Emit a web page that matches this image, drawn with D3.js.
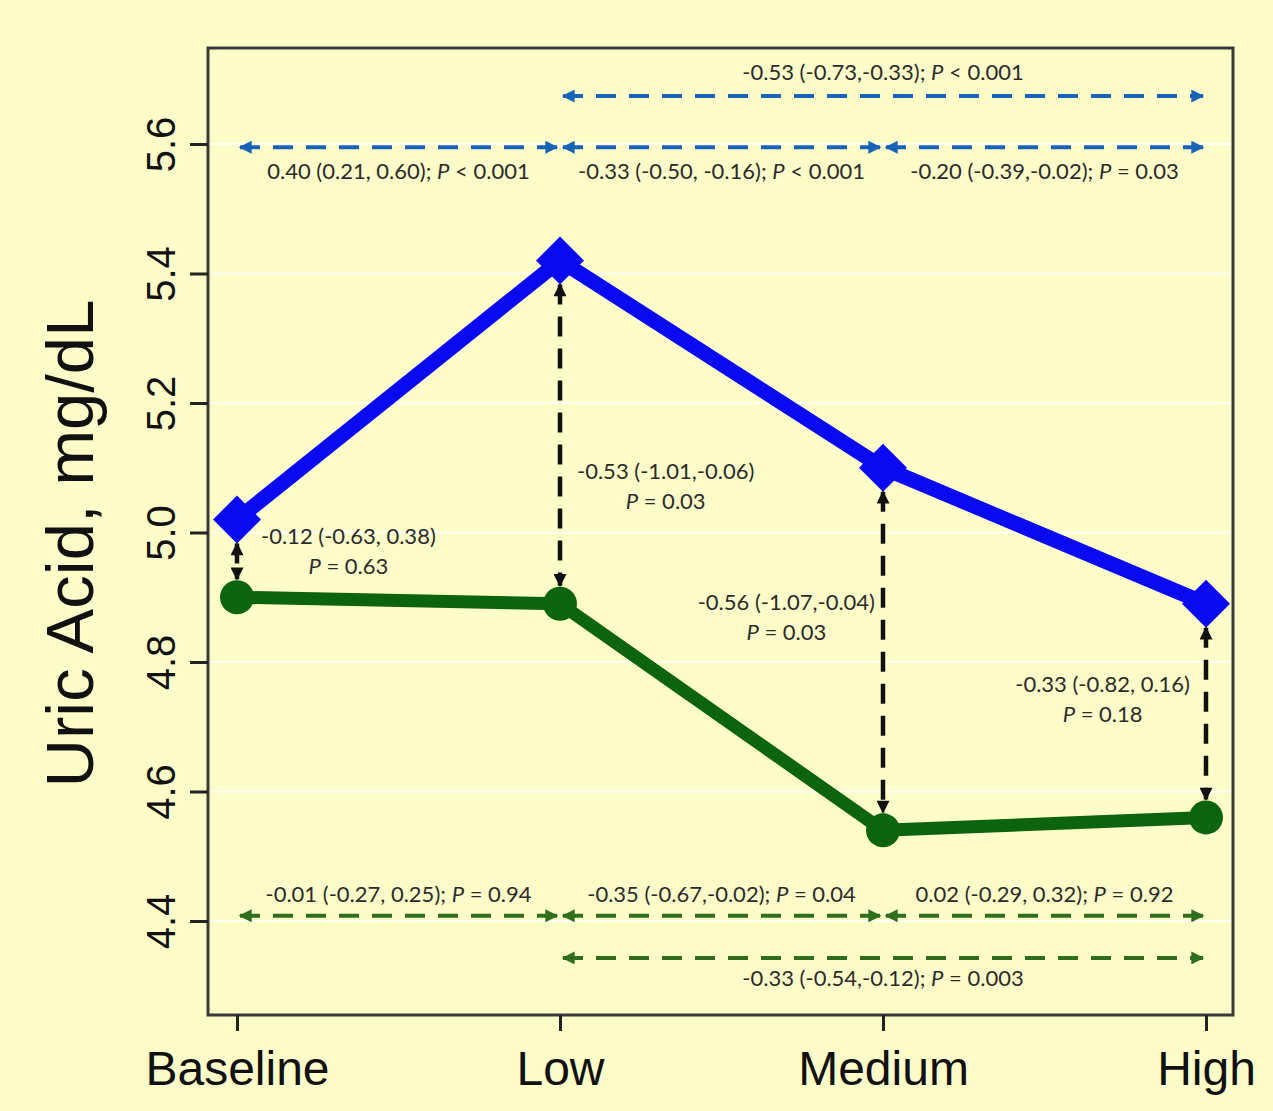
<!DOCTYPE html>
<html>
<head>
<meta charset="utf-8">
<script src="https://cdnjs.cloudflare.com/ajax/libs/d3/7.8.5/d3.min.js"></script>
<style>
  html, body { margin: 0; padding: 0; background: #fefcc8; }
  svg { display: block; }
  .note { font-family: Lato, "Liberation Sans", Arial, sans-serif; font-size: 22px; fill: #2b2b2b; }
</style>
</head>
<body>
<div id="chart"></div>
<script>
// x categories
const categories = ['Baseline', 'Low', 'Medium', 'High'];

// mean uric acid per group
const blueValues = [5.02, 5.42, 5.10, 4.89];
const greenValues = [4.90, 4.89, 4.54, 4.56];

const yTicks = [4.4, 4.6, 4.8, 5.0, 5.2, 5.4, 5.6];

// between-period comparisons, blue series (index from, index to, label)
const blueFrom = [0, 1, 2, 1];
const blueTo = [1, 2, 3, 3];
const blueLabels = [
  '0.40 (0.21, 0.60); P<0.001',
  '-0.33 (-0.50, -0.16); P<0.001',
  '-0.20 (-0.39,-0.02); P=0.03',
  '-0.53 (-0.73,-0.33); P<0.001'
];

// between-period comparisons, green series
const greenFrom = [0, 1, 2, 1];
const greenTo = [1, 2, 3, 3];
const greenLabels = [
  '-0.01 (-0.27, 0.25); P=0.94',
  '-0.35 (-0.67,-0.02); P=0.04',
  '0.02 (-0.29, 0.32); P=0.92',
  '-0.33 (-0.54,-0.12); P=0.003'
];

// blue vs green difference at each period
const diffLabels = [
  '-0.12 (-0.63, 0.38)',
  '-0.53 (-1.01,-0.06)',
  '-0.56 (-1.07,-0.04)',
  '-0.33 (-0.82, 0.16)'
];
const diffP = ['P=0.63', 'P=0.03', 'P=0.03', 'P=0.18'];

const width = 1273;
const height = 1111;
const box = { left: 208, right: 1233, top: 48, bottom: 1015 };

const blueColor = '#0a0af2';
const greenColor = '#0d640f';
const blueArrow = '#1763b8';
const greenArrow = '#2e6e1c';

const svg = d3.select('#chart')
  .append('svg')
  .attr('width', width)
  .attr('height', height);

svg.append('rect')
  .attr('width', width)
  .attr('height', height)
  .attr('fill', '#fefcc8');

const x = d3.scalePoint()
  .domain(categories)
  .range([237, 1206]);

const y = d3.scaleLinear()
  .domain([4.4, 5.6])
  .range([921, 144]);

// arrow markers
const defs = svg.append('defs');
function addMarker(id, color, w, h) {
  defs.append('marker')
    .attr('id', id)
    .attr('viewBox', '0 0 10 10')
    .attr('refX', 9)
    .attr('refY', 5)
    .attr('markerUnits', 'userSpaceOnUse')
    .attr('markerWidth', w)
    .attr('markerHeight', h)
    .attr('orient', 'auto-start-reverse')
    .append('path')
    .attr('d', 'M0,0 L10,5 L0,10 z')
    .attr('fill', color);
}
addMarker('arrow-blue', blueArrow, 15, 13);
addMarker('arrow-green', greenArrow, 15, 13);
addMarker('arrow-black', '#111', 14, 13);

// faint gridlines
svg.append('g')
  .selectAll('line')
  .data(yTicks)
  .join('line')
  .attr('x1', box.left)
  .attr('x2', box.right)
  .attr('y1', d => y(d))
  .attr('y2', d => y(d))
  .attr('stroke', '#ffffff')
  .attr('stroke-opacity', 0.8)
  .attr('stroke-width', 2);

// frame
svg.append('rect')
  .attr('x', box.left)
  .attr('y', box.top)
  .attr('width', box.right - box.left)
  .attr('height', box.bottom - box.top)
  .attr('fill', 'none')
  .attr('stroke', '#3a3a3a')
  .attr('stroke-width', 3);

// y axis
const yAxis = svg.append('g')
  .attr('transform', `translate(${box.left},0)`)
  .call(d3.axisLeft(y).tickValues(yTicks).tickFormat(d3.format('.1f')).tickSize(18).tickPadding(0));
yAxis.select('.domain').remove();
yAxis.selectAll('.tick line').attr('stroke', '#222').attr('stroke-width', 3);
yAxis.selectAll('.tick text')
  .attr('x', 0)
  .attr('dy', 0)
  .attr('text-anchor', 'middle')
  .attr('dominant-baseline', 'central')
  .attr('transform', 'translate(-47,0) rotate(-90)')
  .style('font-family', '"Liberation Sans", Arial, sans-serif')
  .style('font-size', '40px')
  .attr('fill', '#111');

// x axis
const xAxis = svg.append('g')
  .attr('transform', `translate(0,${box.bottom})`)
  .call(d3.axisBottom(x).tickSize(16).tickPadding(20));
xAxis.select('.domain').remove();
xAxis.selectAll('.tick line').attr('stroke', '#222').attr('stroke-width', 3);
xAxis.selectAll('.tick text')
  .attr('dy', '0.71em')
  .style('font-family', '"Liberation Sans", Arial, sans-serif')
  .style('font-size', '48px')
  .attr('fill', '#111');

// y title
svg.append('text')
  .attr('transform', `translate(93,${(box.top + box.bottom) / 2 + 12}) rotate(-90)`)
  .attr('text-anchor', 'middle')
  .style('font-family', '"Liberation Sans", Arial, sans-serif')
  .style('font-size', '67px')
  .attr('fill', '#111')
  .text('Uric Acid, mg/dL');

// series lines
const line = d3.line()
  .x((d, i) => x(categories[i]))
  .y(d => y(d));

svg.append('path')
  .datum(greenValues)
  .attr('d', line)
  .attr('fill', 'none')
  .attr('stroke', greenColor)
  .attr('stroke-width', 13)
  .attr('stroke-linejoin', 'round');

svg.append('path')
  .datum(blueValues)
  .attr('d', line)
  .attr('fill', 'none')
  .attr('stroke', blueColor)
  .attr('stroke-width', 15)
  .attr('stroke-linejoin', 'round');

svg.append('g')
  .selectAll('circle')
  .data(greenValues)
  .join('circle')
  .attr('cx', (d, i) => x(categories[i]))
  .attr('cy', d => y(d))
  .attr('r', 17)
  .attr('fill', greenColor);

svg.append('g')
  .selectAll('path')
  .data(blueValues)
  .join('path')
  .attr('d', d3.symbol(d3.symbolSquare, 1150))
  .attr('transform', (d, i) => `translate(${x(categories[i])},${y(d)}) rotate(45)`)
  .attr('fill', blueColor);

// label with italic P
function noteText(sel, label) {
  const k = label.indexOf('P');
  sel.append('tspan').text(label.slice(0, k));
  sel.append('tspan').style('font-style', 'italic').text('P');
  sel.append('tspan').text(' ' + label.slice(k + 1).replace('=', '= ').replace('<', '< '));
}

// horizontal comparison arrows
function hArrows(from, to, labels, levels, labelDy, color, marker) {
  const g = svg.append('g');
  from.forEach((f, i) => {
    const x1 = x(categories[f]) + 3;
    const x2 = x(categories[to[i]]) - 3;
    const yy = y(levels[i]);
    g.append('line')
      .attr('x1', x1).attr('x2', x2)
      .attr('y1', yy).attr('y2', yy)
      .attr('stroke', color)
      .attr('stroke-width', 4)
      .attr('stroke-dasharray', '20,13')
      .attr('marker-start', `url(#${marker})`)
      .attr('marker-end', `url(#${marker})`);
    const t = g.append('text')
      .attr('class', 'note')
      .attr('x', (x1 + x2) / 2)
      .attr('y', yy + labelDy[i])
      .attr('text-anchor', 'middle');
    noteText(t, labels[i]);
  });
}

hArrows(blueFrom, blueTo, blueLabels, [5.595, 5.595, 5.595, 5.674], [32, 32, 32, -16], blueArrow, 'arrow-blue');
hArrows(greenFrom, greenTo, greenLabels, [4.408, 4.408, 4.408, 4.343], [-14, -14, -14, 28], greenArrow, 'arrow-green');

// vertical difference arrows
const diffAnchor = ['start', 'start', 'end', 'end'];
const diffDx = [24, 17, -8, -16];
const diffDy = [24, 218, 142, 88];
const vg = svg.append('g');
categories.forEach((c, i) => {
  const xx = x(c);
  const y1 = y(blueValues[i]) + 24;
  const y2 = y(greenValues[i]) - 18;
  vg.append('line')
    .attr('x1', xx).attr('x2', xx)
    .attr('y1', y1).attr('y2', y2)
    .attr('stroke', '#111')
    .attr('stroke-width', 4.5)
    .attr('stroke-dasharray', '20,12')
    .attr('marker-start', 'url(#arrow-black)')
    .attr('marker-end', 'url(#arrow-black)');
  const ty = y(blueValues[i]) + diffDy[i];
  const t1 = vg.append('text')
    .attr('class', 'note')
    .attr('x', xx + diffDx[i])
    .attr('y', ty)
    .attr('text-anchor', diffAnchor[i])
    .text(diffLabels[i]);
  const w = t1.node().getComputedTextLength();
  const cx = diffAnchor[i] === 'start' ? xx + diffDx[i] + w / 2 : xx + diffDx[i] - w / 2;
  const t2 = vg.append('text')
    .attr('class', 'note')
    .attr('x', cx)
    .attr('y', ty + 30)
    .attr('text-anchor', 'middle');
  noteText(t2, diffP[i]);
});
</script>
</body>
</html>
